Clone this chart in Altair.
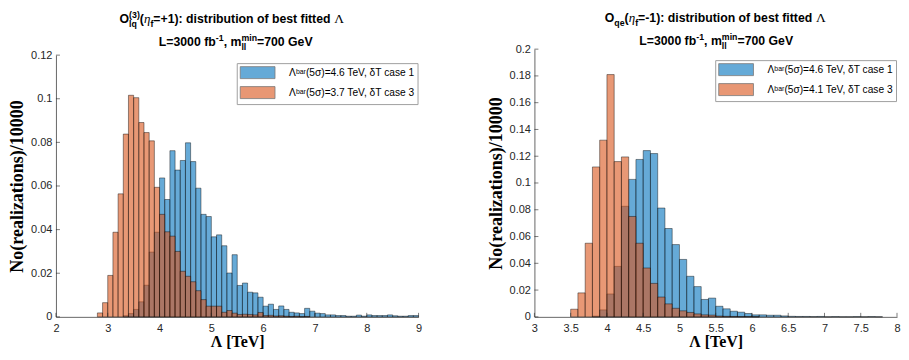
import altair as alt
import pandas as pd

# ---------------- data ----------------
BIN_W = 0.1

# left panel: O_lq^(3) (eta_f=+1)
L_C1_START = 3.3
L_C1 = [0.0005, 0.0015, 0.0034, 0.0069, 0.0145, 0.0297, 0.0388, 0.0637, 0.0538, 0.0762,
        0.0673, 0.0717, 0.0798, 0.0712, 0.0590, 0.0470, 0.0460, 0.0367, 0.0376, 0.0326,
        0.0201, 0.0285, 0.0144, 0.0155, 0.0113, 0.0110, 0.0090, 0.0049, 0.0058, 0.0034,
        0.0050, 0.0034, 0.0021, 0.0018, 0.0015, 0.0039, 0.0026, 0.0017, 0.0015, 0.0009,
        0.0009, 0.0006, 0.0006, 0.0003, 0.0003, 0.0008, 0.0003, 0.0009, 0.0006, 0.0006,
        0.0006, 0.0009, 0.0005, 0.0003, 0.0003, 0.0006, 0.0006]
L_C3_START = 2.8
L_C3 = [0.0018, 0.0065, 0.0190, 0.0388, 0.0564, 0.0838, 0.1016, 0.1005, 0.0891, 0.0845,
        0.0807, 0.0594, 0.0470, 0.0390, 0.0370, 0.0300, 0.0209, 0.0186, 0.0161, 0.0120,
        0.0079, 0.0049, 0.0049, 0.0049, 0.0021, 0.0029, 0.0017, 0.0011, 0.0012, 0.0011,
        0.0009, 0.0020, 0.0006, 0.0007, 0.0004, 0.0005, 0.0003, 0.0002, 0.0003, 0.0001,
        0.0002]

# right panel: O_qe (eta_f=-1)
R_C1_START = 3.8
R_C1 = [0.0005, 0.0052, 0.0171, 0.0377, 0.0826, 0.1027, 0.1176, 0.1242, 0.1220, 0.0813,
        0.0660, 0.0540, 0.0429, 0.0303, 0.0226, 0.0130, 0.0140, 0.0079, 0.0060, 0.0042,
        0.0035, 0.0025, 0.0015, 0.0015, 0.0012, 0.0012, 0.0007, 0.0004, 0.0003, 0.0003,
        0.0002, 0.0003, 0.0001, 0.0002, 0.0001, 0.0001, 0.0002, 0.0001, 0.0002, 0.0001]
R_C3_START = 3.5
R_C3 = [0.0057, 0.0179, 0.0550, 0.1120, 0.1320, 0.1810, 0.1160, 0.1195, 0.0750, 0.0550,
        0.0365, 0.0250, 0.0148, 0.0097, 0.0064, 0.0045, 0.0033, 0.0022, 0.0015, 0.0013,
        0.0006, 0.0004, 0.0003, 0.0002, 0.0002, 0.0001]

L_LABELS = ["Λᵇᵃʳ(5σ)=4.6 TeV, δT case 1", "Λᵇᵃʳ(5σ)=3.7 TeV, δT case 3"]
R_LABELS = ["Λᵇᵃʳ(5σ)=4.6 TeV, δT case 1", "Λᵇᵃʳ(5σ)=4.1 TeV, δT case 3"]

L_XTICKS = [2, 3, 4, 5, 6, 7, 8, 9]
L_YTICKS = [0, 0.02, 0.04, 0.06, 0.08, 0.1, 0.12]
R_XTICKS = [3, 3.5, 4, 4.5, 5, 5.5, 6, 6.5, 7, 7.5, 8]
R_YTICKS = [0, 0.02, 0.04, 0.06, 0.08, 0.1, 0.12, 0.14, 0.16, 0.18, 0.2]

X_TITLE = "Λ [TeV]"
Y_TITLE = "No(realizations)/10000"

# ---------------- style ----------------
BLUE = "#0072BD"
ORANGE = "#D95319"
AXC = "#262626"
SANS = "Liberation Sans"
SERIF_F = "Liberation Serif"
W = 363
H = 268
ONE = pd.DataFrame({"k": [0]})

ARIAL_BOLD = {'O': .778, '(': .333, ')': .333, '0': .556, '1': .556, '3': .556, '7': .556,
              'l': .278, 'q': .611, 'e': .556, 'f': .333, '=': .584, '+': .584, '-': .333,
              ':': .333, ' ': .278, 'd': .611, 'i': .278, 's': .556, 't': .333, 'r': .389,
              'b': .611, 'u': .611, 'o': .611, 'n': .611, 'L': .611, 'G': .778, 'V': .667,
              'm': .889, ',': .278}
SERIF_W = {'η': .5, 'Λ': .72}

STYLES = {
    "main": dict(font=SANS, size=12.3, weight="bold", style="normal", dy=0),
    "sup": dict(font=SANS, size=8.8, weight="bold", style="normal", dy=-5.5),
    "sub": dict(font=SANS, size=8.8, weight="bold", style="normal", dy=3.5),
    "gi": dict(font=SERIF_F, size=13, weight="normal", style="italic", dy=0),
    "g": dict(font=SERIF_F, size=13.5, weight="normal", style="normal", dy=0),
}


def text_width(txt, kind):
    tbl = SERIF_W if kind in ("gi", "g") else ARIAL_BOLD
    return sum(tbl.get(c, .55) for c in txt) * STYLES[kind]["size"]


def title_layers(segments, cx, base):
    advs = [max(text_width(t, k) for t, k in seg) for seg in segments]
    x = cx - sum(advs) / 2
    out = []
    for seg, adv in zip(segments, advs):
        for t, k in seg:
            st = STYLES[k]
            out.append(
                alt.Chart(ONE).mark_text(
                    text=t, font=st["font"], fontSize=st["size"], fontWeight=st["weight"],
                    fontStyle=st["style"], align="left", baseline="alphabetic", color="black"
                ).encode(x=alt.value(x), y=alt.value(base + st["dy"]))
            )
        x += adv
    return out


def hist_df(start, vals, label):
    rows = []
    for i, v in enumerate(vals):
        if v <= 0:
            continue
        lo = round(start + i * BIN_W, 3)
        rows.append({"lo": lo, "hi": round(lo + BIN_W, 3), "v": v, "base": 0.0,
                     "series": label})
    return pd.DataFrame(rows)


# wide 35x12 swatch; row height follows sqrt(symbolSize)=12
LEGEND_SYMBOL = "M-2.9,-1H2.9V1H-2.9Z"


def panel(c1_start, c1, c3_start, c3, labels, xdom, xticks, ydom, yticks, yrange,
          legend_xy, title1, title2, cx1, cx2, b1, b2):
    xs = alt.Scale(domain=xdom, nice=False, zero=False)
    ys = alt.Scale(domain=ydom, range=yrange, nice=False, zero=True)
    cs = alt.Scale(domain=labels, range=[BLUE, ORANGE])
    xaxis = alt.Axis(values=xticks, format="~g", labelFlush=False, title=X_TITLE)
    yaxis = alt.Axis(values=yticks, format=".2~f", labelFlush=False, labelOverlap=False,
                     title=Y_TITLE)
    legend = alt.Legend(
        orient="none", legendX=legend_xy[0], legendY=legend_xy[1], title=None,
        symbolType=LEGEND_SYMBOL, symbolSize=144, symbolOffset=11.4,
        symbolStrokeColor="#222", symbolStrokeWidth=0.8, symbolOpacity=0.6,
        labelFont=SANS, labelFontSize=10.2, labelColor="black", labelLimit=400,
        labelOffset=25, rowPadding=3,
        strokeColor="#a0a0a0", fillColor="white", padding=3,
    )

    def bars(df):
        return alt.Chart(df).mark_bar(
            fillOpacity=0.6, stroke="black", strokeWidth=0.5, strokeOpacity=0.85
        ).encode(
            x=alt.X("lo:Q", scale=xs, axis=xaxis),
            x2="hi:Q",
            y=alt.Y("v:Q", scale=ys, axis=yaxis, stack=None),
            y2="base:Q",
            color=alt.Color("series:N", scale=cs, legend=legend),
        )

    ytick = alt.Chart(pd.DataFrame({"t": yticks})).mark_rule(color=AXC, strokeWidth=0.6).encode(
        y=alt.Y("t:Q", scale=ys, axis=yaxis), x=alt.value(0), x2=alt.value(4))
    xtick = alt.Chart(pd.DataFrame({"t": xticks})).mark_rule(color=AXC, strokeWidth=0.6).encode(
        x=alt.X("t:Q", scale=xs, axis=xaxis), y=alt.value(H), y2=alt.value(H - 4))

    layers = [bars(hist_df(c1_start, c1, labels[0])),
              bars(hist_df(c3_start, c3, labels[1])),
              ytick, xtick]
    layers += title_layers(title1, cx1, b1)
    layers += title_layers(title2, cx2, b2)
    return alt.layer(*layers).properties(width=W, height=H)


L_T1 = [[("O", "main")], [("(3)", "sup"), ("lq", "sub")], [("(", "main")], [("η", "gi")],
        [("f", "sub")], [("=+1): distribution of best fitted ", "main")], [("Λ", "g")]]
R_T1 = [[("O", "main")], [("qe", "sub")], [("(", "main")], [("η", "gi")],
        [("f", "sub")], [("=-1): distribution of best fitted ", "main")], [("Λ", "g")]]
T2 = [[("L=3000 fb", "main")], [("-1", "sup")], [(", m", "main")],
      [("min", "sup"), ("ll", "sub")], [("=700 GeV", "main")]]

left = panel(L_C1_START, L_C1, L_C3_START, L_C3, L_LABELS, [2, 9], L_XTICKS, [0, 0.12],
             L_YTICKS, [H, 6], (181, 14), L_T1, T2, 176, 180, -26, -3)
right = panel(R_C1_START, R_C1, R_C3_START, R_C3, R_LABELS, [3, 8], R_XTICKS, [0, 0.2],
              R_YTICKS, [H, 0], (181, 11), R_T1, T2, 181, 182, -27, -4)

chart = alt.hconcat(left, right, spacing=64).resolve_scale(
    color="independent", x="independent", y="independent"
).properties(
    padding={"left": 0, "top": 2, "right": 0, "bottom": 0}
).configure_view(stroke=None).configure_axis(
    grid=False, ticks=False, tickSize=0, domainColor=AXC, domainWidth=0.7,
    labelFont=SANS, labelFontSize=11, labelColor=AXC,
    titleFont=SERIF_F, titleFontWeight="bold", titleColor="black",
).configure_axisX(
    labelPadding=6, titlePadding=0, titleFontSize=16
).configure_axisY(
    labelPadding=4, titlePadding=4, titleFontSize=18
)

chart.save("out.html", embed_options={"renderer": "svg", "actions": False})
